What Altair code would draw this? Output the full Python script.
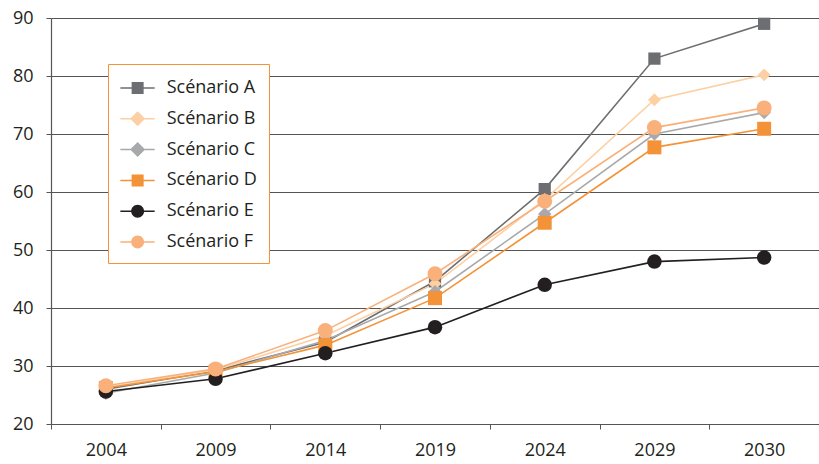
import altair as alt
import pandas as pd

years = ["2004", "2009", "2014", "2019", "2024", "2029", "2030"]
series_names = ["Scénario A", "Scénario B", "Scénario C", "Scénario D", "Scénario E", "Scénario F"]
scen_a = [26.0, 29.2, 34.1, 44.6, 60.5, 83.0, 89.0]
scen_b = [26.3, 29.3, 35.2, 44.2, 58.7, 75.9, 80.2]
scen_c = [25.3, 28.8, 34.4, 42.8, 56.2, 70.0, 73.7]
scen_d = [26.2, 29.0, 33.6, 41.7, 54.7, 67.7, 70.9]
scen_e = [25.6, 27.8, 32.2, 36.7, 44.0, 48.0, 48.7]
scen_f = [26.6, 29.5, 36.1, 45.9, 58.4, 71.1, 74.5]
y_ticks = [20, 30, 40, 50, 60, 70, 80, 90]

colors = ["#6d6e71", "#fdd0a4", "#a7a9ac", "#f39237", "#231f20", "#fab07a"]
shapes = ["square", "diamond", "diamond", "square", "circle", "circle"]
sizes = [150, 225, 225, 150, 165, 165]

# legend symbols: a short line with the marker (custom SVG paths)
cx = 0.47
x0, x1 = -0.97, 1.89
line_part = f"M{x0},-0.0625H{x1}V0.0625H{x0}Z"
sq = f"M{cx-0.5},-0.5H{cx+0.5}V0.5H{cx-0.5}Z"
dm = f"M{cx},-0.625L{cx+0.625},0L{cx},0.625L{cx-0.625},0Z"
r = 0.54
ci = f"M{cx-r},0A{r},{r},0,1,1,{cx+r},0A{r},{r},0,1,1,{cx-r},0Z"
leg_paths = [line_part + sq, line_part + dm, line_part + dm, line_part + sq, line_part + ci, line_part + ci]

rows = []
for name, vals in zip(series_names, [scen_a, scen_b, scen_c, scen_d, scen_e, scen_f]):
    for yr, v in zip(years, vals):
        rows.append({"year": yr, "value": v, "series": name, "leg": name})
df = pd.DataFrame(rows)

FONT = "Open Sans"
AX = "#555555"
TXT = "#231f20"

x_enc = alt.X(
    "year:N",
    sort=years,
    scale=alt.Scale(type="band", domain=years, paddingInner=0, paddingOuter=0),
    axis=alt.Axis(
        title=None, labelAngle=0, tickBand="extent", domainColor=AX, tickColor=AX,
        tickSize=5, labelFontSize=18, labelFont=FONT, labelColor=TXT, labelPadding=12,
        grid=False, domainWidth=1.2,
    ),
)
y_enc = alt.Y(
    "value:Q",
    scale=alt.Scale(domain=[20, 90], nice=False, zero=False),
    axis=alt.Axis(
        title=None, values=y_ticks, grid=True, gridColor=AX, gridWidth=1.2, domainColor=AX,
        domainWidth=1.2, tickColor=AX, tickSize=5, labelFontSize=18, labelFont=FONT,
        labelColor=TXT, labelPadding=13,
    ),
)

color_scale = alt.Scale(domain=series_names, range=colors)

base = alt.Chart(df)

lines = base.mark_line(strokeWidth=1.6).encode(
    x=x_enc, y=y_enc,
    color=alt.Color("series:N", scale=color_scale, legend=None),
    order=alt.Order("year:N"),
)

points = base.mark_point(filled=True, opacity=1).encode(
    x=x_enc, y=y_enc,
    color=alt.Color("series:N", scale=color_scale, legend=None),
    shape=alt.Shape("series:N", scale=alt.Scale(domain=series_names, range=shapes), legend=None),
    size=alt.Size("series:N", scale=alt.Scale(domain=series_names, range=sizes), legend=None),
)

legend_layer = base.mark_point(filled=True, opacity=0).encode(
    x=x_enc, y=y_enc,
    color=alt.Color("leg:N", scale=alt.Scale(domain=series_names, range=colors), title=None),
    shape=alt.Shape("leg:N", scale=alt.Scale(domain=series_names, range=leg_paths), title=None),
)

chart = (
    alt.layer(lines, points, legend_layer)
    .resolve_scale(color="independent", shape="independent", size="independent")
    .properties(
        width=768, height=406,
        autosize=alt.AutoSizeParams(type="none"),
        padding={"left": 51, "top": 18, "right": 0, "bottom": 40},
    )
    .configure_view(stroke=None)
    .configure_legend(
        orient="none", legendX=57, legendY=46,
        symbolSize=576, symbolStrokeWidth=0, symbolOpacity=1,
        labelFontSize=18, labelFont=FONT, labelColor=TXT, labelOffset=22.7,
        rowPadding=9.8, padding=12, strokeColor="#f39237", fillColor="white",
        titlePadding=0,
    )
)

chart.save("out.html", embed_options={"renderer": "svg", "actions": False})
